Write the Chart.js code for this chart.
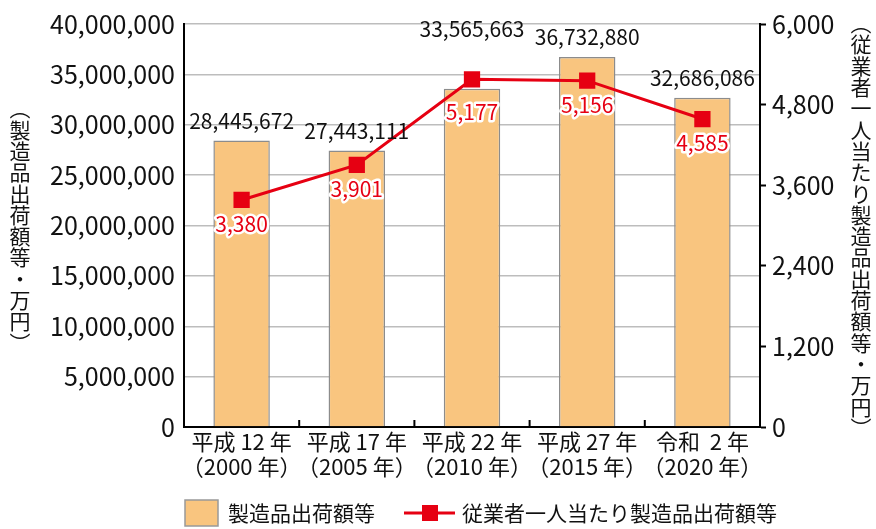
<!DOCTYPE html>
<html lang="ja">
<head>
  <meta charset="UTF-8" />
  <title>製造品出荷額等の推移</title>
  <script src="https://cdn.jsdelivr.net/npm/chart.js"></script>
  <style>
    html, body { margin: 0; padding: 0; background: #fff; }
    canvas { display: block; }
  </style>
</head>
<body>
  <canvas id="grafico" width="876" height="529"></canvas>

  <script>
    // datos
    const nendo = [
      ['平成 12 年', '（2000 年）'],
      ['平成 17 年', '（2005 年）'],
      ['平成 22 年', '（2010 年）'],
      ['平成 27 年', '（2015 年）'],
      ['令和  2 年', '（2020 年）']
    ];
    const shukkagaku = [28445672, 27443111, 33565663, 36732880, 32686086];
    const hitoriAtari = [3380, 3901, 5177, 5156, 4585];
    const serieNombres = ['製造品出荷額等', '従業者一人当たり製造品出荷額等'];
    const tituloIzq = '︵製造品出荷額等・万円︶';
    const tituloDer = '︵従業者一人当たり製造品出荷額等・万円︶';

    const FUENTE = "'Noto Sans CJK JP', 'Noto Sans', sans-serif";
    const ROJO = '#E60012';
    const NARANJA = '#F9C57F';
    const fmt = v => Number(v).toLocaleString('en-US');

    // etiquetas de valores, titulos verticales, marcas del eje x y leyenda
    const extras = {
      id: 'extras',
      afterDatasetsDraw(chart) {
        const ctx = chart.ctx;
        const barras = chart.getDatasetMeta(0).data;
        const puntos = chart.getDatasetMeta(1).data;
        ctx.save();
        ctx.textAlign = 'center';
        ctx.font = '21px ' + FUENTE;

        // barras: si el punto de la linea tapa la etiqueta, subirla
        ctx.fillStyle = '#111';
        ctx.textBaseline = 'bottom';
        barras.forEach((el, i) => {
          let y = el.y - 9;
          const p = puntos[i];
          if (p.y > y - 34 && p.y < el.y + 12) y = Math.min(y, p.y - 40);
          ctx.fillText(fmt(shukkagaku[i]), el.x, y);
        });

        // linea: etiqueta debajo del punto, sin cruzar el borde de la barra
        ctx.textBaseline = 'middle';
        ctx.lineJoin = 'round';
        puntos.forEach((el, i) => {
          const t = fmt(hitoriAtari[i]);
          let y = el.y + 24;
          const tope = barras[i].y;
          if (y - 12 > tope - 6 && y - 12 < tope + 12) y = tope + 23;
          ctx.strokeStyle = '#fff';
          ctx.lineWidth = 5;
          ctx.strokeText(t, el.x, y);
          ctx.fillStyle = ROJO;
          ctx.fillText(t, el.x, y);
        });
        ctx.restore();
      },
      afterDraw(chart) {
        const ctx = chart.ctx;
        const area = chart.chartArea;
        const xs = chart.scales.x;
        ctx.save();

        // marcas hacia dentro entre categorias
        ctx.strokeStyle = '#000';
        ctx.lineWidth = 2;
        for (let i = 0; i < nendo.length - 1; i++) {
          const xm = (xs.getPixelForValue(i) + xs.getPixelForValue(i + 1)) / 2;
          ctx.beginPath();
          ctx.moveTo(xm, area.bottom);
          ctx.lineTo(xm, area.bottom - 7);
          ctx.stroke();
        }

        // titulos verticales
        ctx.font = '21px ' + FUENTE;
        ctx.fillStyle = '#111';
        ctx.textAlign = 'center';
        ctx.textBaseline = 'middle';
        const paso = 21.3;
        const cy = (area.top + area.bottom) / 2;
        const vertical = (txt, cx) => {
          const chars = Array.from(txt);
          const y0 = cy - (chars.length - 1) * paso / 2;
          chars.forEach((c, i) => ctx.fillText(c, cx, y0 + i * paso));
        };
        vertical(tituloIzq, 20);
        vertical(tituloDer, 861);

        // leyenda
        const ly = 513;
        ctx.fillStyle = NARANJA;
        ctx.fillRect(185, ly - 13, 33, 26);
        ctx.strokeStyle = '#999';
        ctx.lineWidth = 1.5;
        ctx.strokeRect(185, ly - 13, 33, 26);
        ctx.fillStyle = '#111';
        ctx.textAlign = 'left';
        ctx.fillText(serieNombres[0], 228, ly);

        ctx.strokeStyle = ROJO;
        ctx.lineWidth = 3;
        ctx.beginPath();
        ctx.moveTo(404, ly);
        ctx.lineTo(455, ly);
        ctx.stroke();
        ctx.fillStyle = ROJO;
        ctx.fillRect(422, ly - 8, 16, 16);
        ctx.fillStyle = '#111';
        ctx.fillText(serieNombres[1], 462, ly);
        ctx.restore();
      }
    };

    const ctx = document.getElementById('grafico').getContext('2d');
    new Chart(ctx, {
      data: {
        labels: nendo,
        datasets: [
          {
            type: 'bar',
            label: serieNombres[0],
            data: shukkagaku,
            yAxisID: 'y',
            backgroundColor: NARANJA,
            borderColor: '#8c8c8c',
            borderWidth: 1.5,
            barPercentage: 0.49,
            categoryPercentage: 1,
            order: 1
          },
          {
            type: 'line',
            label: serieNombres[1],
            data: hitoriAtari,
            yAxisID: 'y2',
            borderColor: ROJO,
            backgroundColor: ROJO,
            borderWidth: 3,
            pointStyle: 'rect',
            pointRadius: 11.5,
            pointBorderWidth: 0,
            tension: 0,
            order: 0
          }
        ]
      },
      options: {
        responsive: false,
        animation: false,
        devicePixelRatio: 1,
        layout: { padding: { left: 40, right: 40, top: 20, bottom: 0 } },
        plugins: {
          legend: { display: false },
          tooltip: { enabled: false }
        },
        scales: {
          x: {
            grid: { display: false, drawTicks: false },
            border: { display: true, color: '#000', width: 2 },
            ticks: {
              color: '#111',
              font: { family: FUENTE, size: 22, lineHeight: 1.15 },
              padding: 2,
              maxRotation: 0,
              autoSkip: false
            },
            afterFit(scale) { scale.height = 102; }
          },
          y: {
            position: 'left',
            min: 0,
            max: 40000000,
            grid: { color: '#bdbdbd', lineWidth: 1.5, drawTicks: false },
            border: { display: true, color: '#000', width: 2 },
            ticks: {
              stepSize: 5000000,
              color: '#111',
              font: { family: FUENTE, size: 25 },
              padding: 9,
              callback: v => fmt(v)
            },
            afterFit(scale) { scale.width = 144; }
          },
          y2: {
            position: 'right',
            min: 0,
            max: 6000,
            grid: { drawOnChartArea: false, drawTicks: true, tickLength: 6, tickColor: '#000', tickWidth: 2 },
            border: { display: true, color: '#000', width: 2 },
            ticks: {
              stepSize: 1200,
              color: '#111',
              font: { family: FUENTE, size: 25 },
              padding: 6,
              callback: v => fmt(v)
            },
            afterFit(scale) { scale.width = 76; }
          }
        }
      },
      plugins: [extras]
    });
  </script>
</body>
</html>
